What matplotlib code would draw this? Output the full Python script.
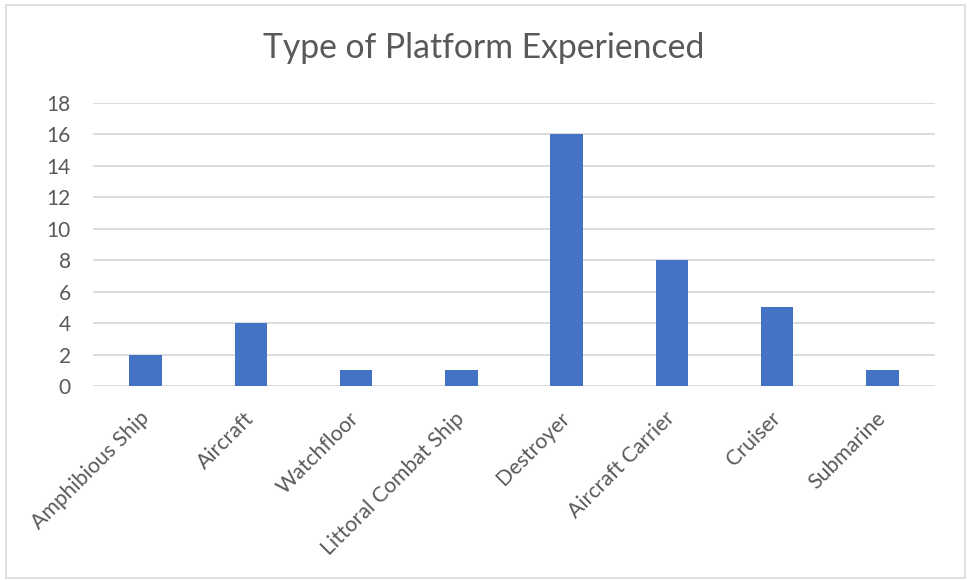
import matplotlib
matplotlib.use("Agg")
import matplotlib.pyplot as plt
from matplotlib.patches import Rectangle

categories = ["Amphibious Ship", "Aircraft", "Watchfloor", "Littoral Combat Ship",
              "Destroyer", "Aircraft Carrier", "Cruiser", "Submarine"]
counts = [2, 4, 1, 1, 16, 8, 5, 1]
y_ticks = [0, 2, 4, 6, 8, 10, 12, 14, 16, 18]

plt.rcParams["font.family"] = ["Lato", "DejaVu Sans"]
text_color = "#595959"
grid_color = "#d9d9d9"
bar_color = "#4472C4"

fig = plt.figure(figsize=(9.67, 5.8), dpi=100)
fig.patch.set_facecolor("white")
fig.add_artist(Rectangle((0.006, 0.004), 0.992, 0.988, transform=fig.transFigure,
                         fill=False, edgecolor=grid_color, linewidth=1.2))

ax = fig.add_axes([0.0962, 0.3345, 0.8707, 0.4879])
x = range(len(categories))
ax.bar(x, counts, width=0.31, color=bar_color, zorder=3)

ax.set_xlim(-0.5, len(categories) - 0.5)
ax.set_ylim(0, 18)
ax.set_yticks(y_ticks)
ax.set_yticklabels([str(v) for v in y_ticks], fontsize=15, color=text_color)
ax.yaxis.grid(True, color=grid_color, linewidth=1.3, zorder=0)
ax.set_axisbelow(True)
for s in ax.spines.values():
    s.set_visible(False)
ax.tick_params(axis="x", length=0, pad=21)
ax.tick_params(axis="y", length=0, pad=16)
ax.set_xticks(list(x))
ax.set_xticklabels(categories, rotation=45, ha="right", va="center",
                   rotation_mode="anchor", fontsize=15.3, color=text_color)

fig.text(0.5, 0.918, "Type of Platform Experienced", ha="center", va="center",
         fontsize=24.3, color=text_color)

fig.savefig("out.png", dpi=100)
